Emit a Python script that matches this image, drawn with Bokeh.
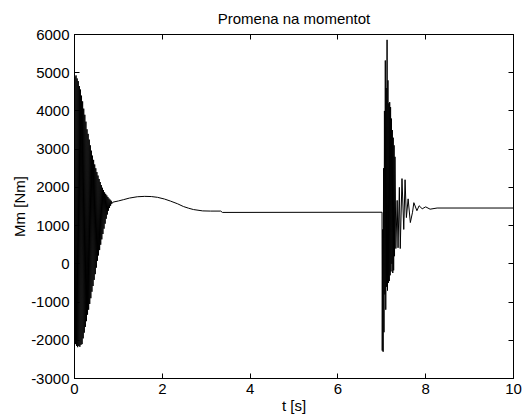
from bokeh.plotting import figure
from bokeh.models import LinearAxis, Range1d, FixedTicker
from bokeh.embed import file_html
from bokeh.resources import INLINE

# ---- data ----
# first transient (start-up oscillation), alternating peaks
t_start = [0.000, 0.010, 0.022, 0.035, 0.047, 0.060, 0.072, 0.085, 0.097, 0.110,
           0.122, 0.135, 0.147, 0.160, 0.172, 0.185, 0.197, 0.210, 0.222, 0.235,
           0.247, 0.260, 0.272, 0.285, 0.297, 0.310, 0.322, 0.335, 0.347, 0.360,
           0.372, 0.385, 0.397, 0.410, 0.422, 0.435, 0.447, 0.460, 0.472, 0.485,
           0.497, 0.510, 0.522, 0.535, 0.547, 0.560, 0.572, 0.585, 0.597, 0.610,
           0.622, 0.635, 0.647, 0.660, 0.672, 0.685, 0.697, 0.710, 0.722, 0.735,
           0.747, 0.760, 0.772, 0.785, 0.797, 0.810, 0.822, 0.835, 0.847, 0.870]
m_start = [0, 4900, -2100, 4930, -2150, 4850, -2180, 4780, -2150, 4650,
           -2170, 4560, -2120, 4400, -2100, 4250, -1950, 4060, -1800, 3900,
           -1650, 3720, -1500, 3520, -1330, 3400, -1200, 3250, -1050, 3100,
           -900, 2960, -730, 2830, -580, 2720, -420, 2600, -270, 2500,
           -100, 2400, 80, 2310, 220, 2220, 360, 2140, 500, 2060,
           640, 1990, 780, 1930, 920, 1870, 1050, 1830, 1180, 1790,
           1290, 1750, 1390, 1710, 1460, 1680, 1520, 1650, 1570, 1610]

# smooth part and steady state
t_smooth = [0.90, 1.00, 1.12, 1.25, 1.43, 1.60, 1.75, 1.89, 2.05, 2.19,
            2.35, 2.48, 2.60, 2.71, 2.92, 3.10, 3.33, 3.37, 7.005]
m_smooth = [1620, 1645, 1680, 1720, 1755, 1765, 1760, 1740, 1695, 1640,
            1570, 1500, 1455, 1420, 1385, 1380, 1380, 1345, 1350]

# second transient (load change at t = 7 s)
t_load = [7.010, 7.020, 7.030, 7.040, 7.050, 7.060, 7.070, 7.080, 7.090, 7.100,
          7.110, 7.120, 7.130, 7.140, 7.150, 7.160, 7.170, 7.180, 7.190, 7.200,
          7.210, 7.220, 7.230, 7.240, 7.250, 7.260, 7.270, 7.280, 7.290, 7.300,
          7.320, 7.350, 7.370, 7.400, 7.420, 7.460, 7.500, 7.530, 7.560, 7.600,
          7.650, 7.700, 7.730, 7.800, 7.850, 7.920, 8.000, 8.100, 8.260, 10.0]
m_load = [-2270, 900, -2300, 2500, -1790, 4000, -800, 5320, -1200, 4600,
          -600, 5860, -700, 4800, -500, 4200, -450, 4230, -300, 4100,
          -200, 3800, 0, 3500, -240, 3300, -170, 3100, 200, 2800,
          400, 1660, 420, 2000, 400, 2230, 900, 2200, 1210, 1700,
          1080, 1350, 1600, 1390, 1520, 1440, 1490, 1430, 1460, 1460]

x_ticks = [0, 2, 4, 6, 8, 10]
x_tick_labels = ["0", "2", "4", "6", "8", "10"]
y_ticks = [-3000, -2000, -1000, 0, 1000, 2000, 3000, 4000, 5000, 6000]
y_tick_labels = ["-3000", "-2000", "-1000", "0", "1000", "2000", "3000", "4000", "5000", "6000"]

title_text = "Promena na momentot"
x_label = "t [s]"
y_label = "Mm [Nm]"

t_all = t_start + t_smooth + t_load
m_all = m_start + m_smooth + m_load

FONT = "Liberation Sans"
FS = "15px"

p = figure(width=522, height=419,
           x_range=Range1d(0, 10), y_range=Range1d(-3000, 6000),
           output_backend="svg", toolbar_location=None,
           title=title_text,
           min_border_left=74, min_border_right=9,
           min_border_top=34, min_border_bottom=41)

p.background_fill_color = "white"
p.border_fill_color = "white"
p.outline_line_color = "black"
p.outline_line_width = 1
p.grid.visible = False

p.title.align = "center"
p.title.vertical_align = "middle"
p.title.text_font = FONT
p.title.text_font_size = FS
p.title.text_font_style = "normal"
p.title.text_color = "black"
p.title.standoff = 14

p.line(t_all, m_all, line_color="black", line_width=1)

def style_axis(ax, ticks, labels, show_labels=True):
    ax.ticker = FixedTicker(ticks=ticks)
    ax.major_tick_in = 5
    ax.major_tick_out = 0
    ax.minor_tick_line_color = None
    ax.axis_line_color = "black"
    ax.major_tick_line_color = "black"
    ax.major_label_text_font = FONT
    if show_labels:
        ax.major_label_overrides = {tk: lb for tk, lb in zip(ticks, labels)}
        ax.major_label_text_font_size = FS
        ax.major_label_text_color = "black"
        ax.major_label_standoff = 5
    else:
        ax.major_label_text_font_size = "0px"
        ax.major_label_text_color = None
        ax.major_label_standoff = 0

style_axis(p.xaxis[0], x_ticks, x_tick_labels)
style_axis(p.yaxis[0], y_ticks, y_tick_labels)
p.xaxis[0].axis_label = x_label
p.yaxis[0].axis_label = y_label
for ax in (p.xaxis[0], p.yaxis[0]):
    ax.axis_label_text_font = FONT
    ax.axis_label_text_font_size = FS
    ax.axis_label_text_font_style = "normal"
    ax.axis_label_text_color = "black"
    ax.axis_label_standoff = 0

top = LinearAxis()
style_axis(top, x_ticks, x_tick_labels, show_labels=False)
p.add_layout(top, "above")
right = LinearAxis()
style_axis(right, y_ticks, y_tick_labels, show_labels=False)
p.add_layout(right, "right")

open("out.html", "w").write(file_html(p, INLINE))
